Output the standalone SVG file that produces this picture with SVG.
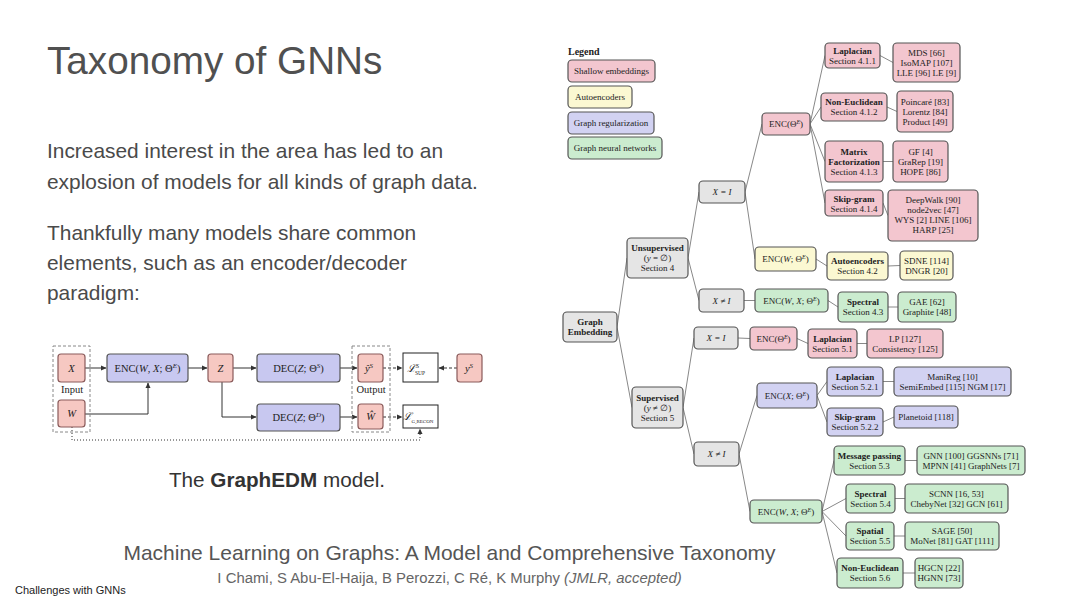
<svg xmlns="http://www.w3.org/2000/svg" width="1080" height="608" viewBox="0 0 1080 608">
<defs>
<style>
.title{font-family:"Liberation Sans",Arial,sans-serif;font-size:38.7px;fill:#505050}
.body{font-family:"Liberation Sans",Arial,sans-serif;font-size:20.9px;fill:#4a4a4a}
.t{font-family:"Liberation Serif","DejaVu Serif",serif;font-size:9px;fill:#222;text-anchor:middle}
.b{font-weight:bold}
.m{font-family:"Liberation Serif","DejaVu Serif",serif;font-size:10.5px;fill:#222;text-anchor:middle}
.pk{fill:#f3c6cf;stroke:#555;stroke-width:1.2}
.yl{fill:#fbf8d2;stroke:#555;stroke-width:1.2}
.bl{fill:#d2d2f2;stroke:#555;stroke-width:1.2}
.gn{fill:#cbeccf;stroke:#555;stroke-width:1.2}
.gy{fill:#e5e5e5;stroke:#555;stroke-width:1.2}
.epk{fill:#f6c8c2;stroke:#8a5a5a;stroke-width:1.2}
.ebl{fill:#c8c8f0;stroke:#555;stroke-width:1.2}
.loss{fill:#fff;stroke:#222;stroke-width:1}
.grp{fill:none;stroke:#888;stroke-width:1;stroke-dasharray:3,2}
.e{fill:none;stroke:#888;stroke-width:1}
.a{fill:none;stroke:#333;stroke-width:1}
.ad{fill:none;stroke:#333;stroke-width:1;stroke-dasharray:3,2}
.ao{fill:none;stroke:#333;stroke-width:1;stroke-dasharray:1,2}
</style>
<marker id="ah" markerUnits="userSpaceOnUse" markerWidth="6" markerHeight="6" refX="5" refY="3" orient="auto"><path d="M0,0.5 L5.5,3 L0,5.5 z" fill="#333"/></marker>
</defs>
<rect width="1080" height="608" fill="#fff"/>

<text class="title" x="47" y="74">Taxonomy of GNNs</text>
<text class="body" x="47" y="158">Increased interest in the area has led to an</text>
<text class="body" x="47" y="189">explosion of models for all kinds of graph data.</text>
<text class="body" x="47" y="240">Thankfully many models share common</text>
<text class="body" x="47" y="270">elements, such as an encoder/decoder</text>
<text class="body" x="47" y="300">paradigm:</text>

<!-- GraphEDM -->
<g id="edm">
<g id="connectors-edm">
<path class="a" d="M85,368 H106" marker-end="url(#ah)"/>
<path class="a" d="M85,414 H148 V383" marker-end="url(#ah)"/>
<path class="a" d="M188,368 H207" marker-end="url(#ah)"/>
<path class="a" d="M233,368 H256" marker-end="url(#ah)"/>
<path class="a" d="M222,382 V417 H256" marker-end="url(#ah)"/>
<path class="a" d="M340,368 H357" marker-end="url(#ah)"/>
<path class="a" d="M340,417 H357" marker-end="url(#ah)"/>
<path class="ad" d="M383,368 H402" marker-end="url(#ah)"/>
<path class="ad" d="M457,368 H439" marker-end="url(#ah)"/>
<path class="ad" d="M383,417 H402" marker-end="url(#ah)"/>
<path class="ao" d="M72,427 V440 H420 V429" marker-end="url(#ah)"/>
</g>
<rect class="grp" x="53" y="346" width="37" height="86"/>
<rect class="grp" x="352" y="346" width="38" height="86"/>
<g id="n-X"><rect class="epk" x="58" y="354" width="27" height="28" rx="3"/><text class="m" x="71.5" y="372" font-style="italic">X</text></g>
<text class="m" x="72" y="393" font-size="9">Input</text>
<g id="n-W"><rect class="epk" x="58" y="400" width="27" height="27" rx="3"/><text class="m" x="71.5" y="417" font-style="italic">W</text></g>
<g id="n-ENC"><rect class="ebl" x="107" y="354" width="81" height="28" rx="3"/><text class="m" x="147.5" y="372">ENC(<tspan font-style="italic">W</tspan>, <tspan font-style="italic">X</tspan>; Θ<tspan dy="-4" font-size="7" font-style="italic">E</tspan><tspan dy="4">)</tspan></text></g>
<g id="n-Z"><rect class="epk" x="208" y="354" width="25" height="28" rx="3"/><text class="m" x="220.5" y="372" font-style="italic">Z</text></g>
<g id="n-DEC1"><rect class="ebl" x="257" y="354" width="83" height="28" rx="3"/><text class="m" x="298.5" y="372">DEC(<tspan font-style="italic">Z</tspan>; Θ<tspan dy="-4" font-size="7" font-style="italic">S</tspan><tspan dy="4">)</tspan></text></g>
<g id="n-DEC2"><rect class="ebl" x="257" y="404" width="83" height="27" rx="3"/><text class="m" x="298.5" y="421">DEC(<tspan font-style="italic">Z</tspan>; Θ<tspan dy="-4" font-size="7" font-style="italic">D</tspan><tspan dy="4">)</tspan></text></g>
<g id="n-yhat"><rect class="epk" x="358" y="354" width="25" height="28" rx="3"/><text class="m" x="369" y="372" font-style="italic">ŷ<tspan dy="-4" font-size="7">S</tspan></text></g>
<text class="m" x="371" y="393" font-size="9">Output</text>
<g id="n-What"><rect class="epk" x="358" y="404" width="25" height="25" rx="3"/><text class="m" x="370.5" y="420" font-style="italic">Ŵ</text></g>
<g id="n-L1"><rect class="loss" x="403" y="353" width="35" height="29"/><text class="m" x="416" y="372" font-style="italic">ℒ<tspan dy="-4" font-size="6">S</tspan><tspan dx="-4" dy="7" font-size="5.5" font-style="normal">SUP</tspan></text></g>
<g id="n-L2"><rect class="loss" x="403" y="405" width="35" height="23"/><text class="m" x="418" y="420" font-style="italic">ℒ<tspan dy="3" font-size="5" font-style="normal">G,RECON</tspan></text></g>
<g id="n-y"><rect class="epk" x="457" y="354" width="25" height="28" rx="3"/><text class="m" x="469" y="372" font-style="italic">y<tspan dy="-4" font-size="7">S</tspan></text></g>
</g>
<text x="277" y="487" text-anchor="middle" style="font-family:'Liberation Sans',Arial,sans-serif;font-size:20.7px;fill:#333">The <tspan font-weight="bold">GraphEDM</tspan> model.</text>

<!-- Legend -->
<g id="legend">
<text class="t b" x="568" y="55" style="text-anchor:start;font-size:10px">Legend</text>
<g id="lg-shallow"><rect class="pk" x="568" y="60" width="87" height="22" rx="4"/><text class="t" x="611.5" y="74">Shallow embeddings</text></g>
<g id="lg-ae"><rect class="yl" x="568" y="86" width="64" height="22" rx="4"/><text class="t" x="600" y="100">Autoencoders</text></g>
<g id="lg-reg"><rect class="bl" x="568" y="112" width="86" height="22" rx="4"/><text class="t" x="611" y="126">Graph regularization</text></g>
<g id="lg-gnn"><rect class="gn" x="568" y="137" width="94" height="22" rx="4"/><text class="t" x="615" y="151">Graph neural networks</text></g>
</g>

<!-- Tree connectors -->
<g id="connectors">
<path class="e" d="M617,327 L627,258"/>
<path class="e" d="M617,327 L632,407.5"/>
<path class="e" d="M688,258 L699,192"/>
<path class="e" d="M688,258 L699,300.5"/>
<path class="e" d="M745,192 L762,124"/>
<path class="e" d="M745,192 L755,259"/>
<path class="e" d="M810,124 L825,55.5"/>
<path class="e" d="M810,124 L821,107"/>
<path class="e" d="M810,124 L825,161.5"/>
<path class="e" d="M810,124 L825,203"/>
<path class="e" d="M880,55.5 L893,62.5"/>
<path class="e" d="M887,107 L897,111.5"/>
<path class="e" d="M883,161.5 L893,161.5"/>
<path class="e" d="M883,203 L888,215.5"/>
<path class="e" d="M816,259 L827,266"/>
<path class="e" d="M888,266 L900,265.5"/>
<path class="e" d="M744,300.5 L755,300.5"/>
<path class="e" d="M828,300.5 L838,307"/>
<path class="e" d="M888,307 L898,307"/>
<path class="e" d="M683,407.5 L694,338"/>
<path class="e" d="M683,407.5 L694,454"/>
<path class="e" d="M738,338 L750,338.5"/>
<path class="e" d="M797,338.5 L808,343.5"/>
<path class="e" d="M857,343.5 L867,343.5"/>
<path class="e" d="M739,454 L757,395.5"/>
<path class="e" d="M739,454 L750,511.5"/>
<path class="e" d="M817,395.5 L827,381.5"/>
<path class="e" d="M817,395.5 L827,422"/>
<path class="e" d="M883,381.5 L894,381.5"/>
<path class="e" d="M883,422 L894,417"/>
<path class="e" d="M822,511.5 L834,460.5"/>
<path class="e" d="M822,511.5 L846,498.5"/>
<path class="e" d="M822,511.5 L846,536"/>
<path class="e" d="M822,511.5 L837,573"/>
<path class="e" d="M905,460.5 L917,460.5"/>
<path class="e" d="M895,498.5 L905,498.5"/>
<path class="e" d="M894,536 L905,536"/>
<path class="e" d="M903,573 L915,573"/>
</g>

<!-- Gray nodes -->
<g id="n-ge"><rect class="gy" x="563" y="312" width="54" height="30" rx="4"/><text class="t b" x="590" y="325">Graph</text><text class="t b" x="590" y="335">Embedding</text></g>
<g id="n-uns"><rect class="gy" x="627" y="238" width="61" height="40" rx="4"/><text class="t b" x="657.5" y="251">Unsupervised</text><text class="t" x="657.5" y="261">(<tspan font-style="italic">y</tspan> = ∅)</text><text class="t" x="657.5" y="271">Section 4</text></g>
<g id="n-xi1"><rect class="gy" x="699" y="181" width="46" height="22" rx="4"/><text class="t" x="722" y="195" font-style="italic">X = I</text></g>
<g id="n-xni1"><rect class="gy" x="699" y="289" width="45" height="23" rx="4"/><text class="t" x="721.5" y="303.5" font-style="italic">X ≠ I</text></g>
<g id="n-sup"><rect class="gy" x="632" y="387" width="51" height="41" rx="4"/><text class="t b" x="657.5" y="400.5">Supervised</text><text class="t" x="657.5" y="410.5">(<tspan font-style="italic">y</tspan> ≠ ∅)</text><text class="t" x="657.5" y="420.5">Section 5</text></g>
<g id="n-xi2"><rect class="gy" x="694" y="327" width="44" height="22" rx="4"/><text class="t" x="716" y="341" font-style="italic">X = I</text></g>
<g id="n-xni2"><rect class="gy" x="694" y="442" width="45" height="24" rx="4"/><text class="t" x="716.5" y="457" font-style="italic">X ≠ I</text></g>

<!-- Shallow embeddings (pink) -->
<g id="n-enc1"><rect class="pk" x="762" y="113" width="48" height="22" rx="4"/><text class="t" x="786" y="127">ENC(Θ<tspan dy="-3" font-size="6" font-style="italic">E</tspan><tspan dy="3">)</tspan></text></g>
<g id="n-lap1"><rect class="pk" x="825" y="43" width="55" height="25" rx="4"/><text class="t b" x="852.5" y="54">Laplacian</text><text class="t" x="852.5" y="64">Section 4.1.1</text></g>
<g id="n-mds"><rect class="pk" x="893" y="43" width="67" height="39" rx="4"/><text class="t" x="926.5" y="55.5">MDS [66]</text><text class="t" x="926.5" y="65.5">IsoMAP [107]</text><text class="t" x="926.5" y="75.5">LLE [96] LE [9]</text></g>
<g id="n-ne1"><rect class="pk" x="821" y="93" width="66" height="28" rx="4"/><text class="t b" x="854" y="105">Non-Euclidean</text><text class="t" x="854" y="115">Section 4.1.2</text></g>
<g id="n-poi"><rect class="pk" x="897" y="91" width="56" height="41" rx="4"/><text class="t" x="925" y="104.5">Poincaré [83]</text><text class="t" x="925" y="114.5">Lorentz [84]</text><text class="t" x="925" y="124.5">Product [49]</text></g>
<g id="n-mf"><rect class="pk" x="825" y="141" width="58" height="41" rx="4"/><text class="t b" x="854" y="154.5">Matrix</text><text class="t b" x="854" y="164.5">Factorization</text><text class="t" x="854" y="174.5">Section 4.1.3</text></g>
<g id="n-gf"><rect class="pk" x="893" y="141" width="55" height="41" rx="4"/><text class="t" x="920.5" y="154.5">GF [4]</text><text class="t" x="920.5" y="164.5">GraRep [19]</text><text class="t" x="920.5" y="174.5">HOPE [86]</text></g>
<g id="n-sg1"><rect class="pk" x="825" y="190" width="58" height="26" rx="4"/><text class="t b" x="854" y="201.5">Skip-gram</text><text class="t" x="854" y="211.5">Section 4.1.4</text></g>
<g id="n-dw"><rect class="pk" x="888" y="190" width="90" height="51" rx="4"/><text class="t" x="933" y="203">DeepWalk [90]</text><text class="t" x="933" y="213">node2vec [47]</text><text class="t" x="933" y="223">WYS [2] LINE [106]</text><text class="t" x="933" y="233">HARP [25]</text></g>
<g id="n-enc4"><rect class="pk" x="750" y="327" width="47" height="23" rx="4"/><text class="t" x="773.5" y="341.5">ENC(Θ<tspan dy="-3" font-size="6" font-style="italic">E</tspan><tspan dy="3">)</tspan></text></g>
<g id="n-lap2"><rect class="pk" x="808" y="329" width="49" height="29" rx="4"/><text class="t b" x="832.5" y="341.5">Laplacian</text><text class="t" x="832.5" y="351.5">Section 5.1</text></g>
<g id="n-lp"><rect class="pk" x="867" y="329" width="76" height="29" rx="4"/><text class="t" x="905" y="341.5">LP [127]</text><text class="t" x="905" y="351.5">Consistency [125]</text></g>

<!-- Autoencoders (yellow) -->
<g id="n-enc2"><rect class="yl" x="755" y="247" width="61" height="24" rx="4"/><text class="t" x="785.5" y="262">ENC(<tspan font-style="italic">W</tspan>; Θ<tspan dy="-3" font-size="6" font-style="italic">E</tspan><tspan dy="3">)</tspan></text></g>
<g id="n-ae"><rect class="yl" x="827" y="252" width="61" height="28" rx="4"/><text class="t b" x="857.5" y="264">Autoencoders</text><text class="t" x="857.5" y="274">Section 4.2</text></g>
<g id="n-sdne"><rect class="yl" x="900" y="251" width="53" height="29" rx="4"/><text class="t" x="926.5" y="263.5">SDNE [114]</text><text class="t" x="926.5" y="273.5">DNGR [20]</text></g>

<!-- GNN (green) -->
<g id="n-enc3"><rect class="gn" x="755" y="289" width="73" height="23" rx="4"/><text class="t" x="791.5" y="303.5">ENC(<tspan font-style="italic">W</tspan>, <tspan font-style="italic">X</tspan>; Θ<tspan dy="-3" font-size="6" font-style="italic">E</tspan><tspan dy="3">)</tspan></text></g>
<g id="n-spec1"><rect class="gn" x="838" y="292" width="50" height="30" rx="4"/><text class="t b" x="863" y="305">Spectral</text><text class="t" x="863" y="315">Section 4.3</text></g>
<g id="n-gae"><rect class="gn" x="898" y="292" width="58" height="30" rx="4"/><text class="t" x="927" y="305">GAE [62]</text><text class="t" x="927" y="315">Graphite [48]</text></g>
<g id="n-enc6"><rect class="gn" x="750" y="500" width="72" height="23" rx="4"/><text class="t" x="786" y="514.5">ENC(<tspan font-style="italic">W</tspan>, <tspan font-style="italic">X</tspan>; Θ<tspan dy="-3" font-size="6" font-style="italic">E</tspan><tspan dy="3">)</tspan></text></g>
<g id="n-mp"><rect class="gn" x="834" y="446" width="71" height="29" rx="4"/><text class="t b" x="869.5" y="458.5">Message passing</text><text class="t" x="869.5" y="468.5">Section 5.3</text></g>
<g id="n-gnn"><rect class="gn" x="917" y="446" width="108" height="29" rx="4"/><text class="t" x="971" y="458.5">GNN [100] GGSNNs [71]</text><text class="t" x="971" y="468.5">MPNN [41] GraphNets [7]</text></g>
<g id="n-spec2"><rect class="gn" x="846" y="484" width="49" height="29" rx="4"/><text class="t b" x="870.5" y="496.5">Spectral</text><text class="t" x="870.5" y="506.5">Section 5.4</text></g>
<g id="n-scnn"><rect class="gn" x="905" y="484" width="103" height="29" rx="4"/><text class="t" x="956.5" y="496.5">SCNN [16, 53]</text><text class="t" x="956.5" y="506.5">ChebyNet [32] GCN [61]</text></g>
<g id="n-spat"><rect class="gn" x="846" y="522" width="48" height="28" rx="4"/><text class="t b" x="870" y="534">Spatial</text><text class="t" x="870" y="544">Section 5.5</text></g>
<g id="n-sage"><rect class="gn" x="905" y="522" width="94" height="28" rx="4"/><text class="t" x="952" y="534">SAGE [50]</text><text class="t" x="952" y="544">MoNet [81] GAT [111]</text></g>
<g id="n-ne2"><rect class="gn" x="837" y="558" width="66" height="30" rx="4"/><text class="t b" x="870" y="571">Non-Euclidean</text><text class="t" x="870" y="581">Section 5.6</text></g>
<g id="n-hgcn"><rect class="gn" x="915" y="558" width="48" height="30" rx="4"/><text class="t" x="939" y="571">HGCN [22]</text><text class="t" x="939" y="581">HGNN [73]</text></g>

<!-- Graph regularization (blue) -->
<g id="n-enc5"><rect class="bl" x="757" y="383" width="60" height="25" rx="4"/><text class="t" x="787" y="398.5">ENC(<tspan font-style="italic">X</tspan>; Θ<tspan dy="-3" font-size="6" font-style="italic">E</tspan><tspan dy="3">)</tspan></text></g>
<g id="n-lap3"><rect class="bl" x="827" y="367" width="56" height="29" rx="4"/><text class="t b" x="855" y="379.5">Laplacian</text><text class="t" x="855" y="389.5">Section 5.2.1</text></g>
<g id="n-mani"><rect class="bl" x="894" y="367" width="117" height="29" rx="4"/><text class="t" x="952.5" y="379.5">ManiReg [10]</text><text class="t" x="952.5" y="389.5">SemiEmbed [115] NGM [17]</text></g>
<g id="n-sg2"><rect class="bl" x="827" y="408" width="56" height="28" rx="4"/><text class="t b" x="855" y="420">Skip-gram</text><text class="t" x="855" y="430">Section 5.2.2</text></g>
<g id="n-plan"><rect class="bl" x="894" y="406" width="64" height="22" rx="4"/><text class="t" x="926" y="420">Planetoid [118]</text></g>

<!-- Footer texts -->
<text x="449.5" y="560" text-anchor="middle" style="font-family:'Liberation Sans',Arial,sans-serif;font-size:21px;fill:#555">Machine Learning on Graphs: A Model and Comprehensive Taxonomy</text>
<text x="449.5" y="583" text-anchor="middle" style="font-family:'Liberation Sans',Arial,sans-serif;font-size:14.9px;fill:#666">I Chami, S Abu-El-Haija, B Perozzi, C Ré, K Murphy <tspan font-style="italic">(JMLR, accepted)</tspan></text>
<text x="15" y="594" style="font-family:'Liberation Sans',Arial,sans-serif;font-size:11px;fill:#222">Challenges with GNNs</text>
</svg>
